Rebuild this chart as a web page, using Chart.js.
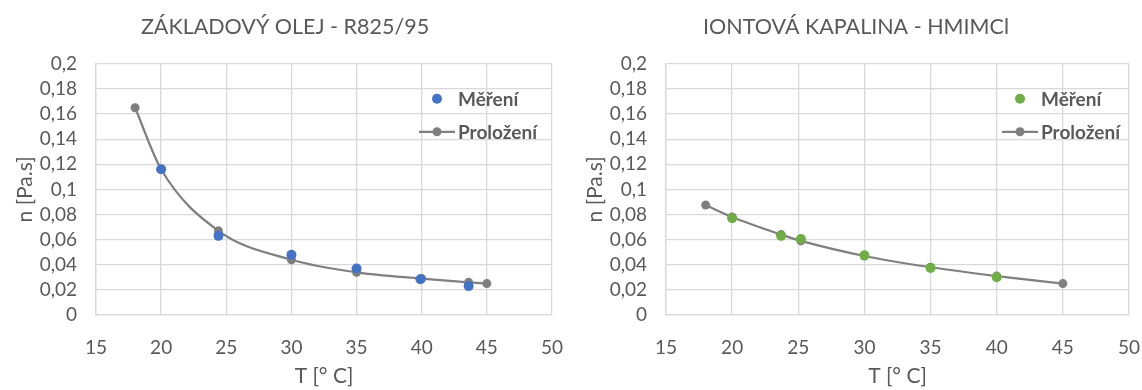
<!DOCTYPE html>
<html>
<head>
<meta charset="utf-8">
<script src="https://cdn.jsdelivr.net/npm/chart.js@4.4.1/dist/chart.umd.min.js"></script>
<style>
  html, body { margin: 0; padding: 0; background: #fff; }
  .wrap { position: absolute; top: 0; height: 390px; }
  #left { left: 0; width: 570px; }
  #right { left: 570px; width: 572px; }
</style>
</head>
<body>
<div class="wrap" id="left"><canvas id="oilChart"></canvas></div>
<div class="wrap" id="right"><canvas id="ionicChart"></canvas></div>
<script>
// Base oil R825/95: measured viscosity and fitted curve
const oilMeasT = [20, 24.4, 30, 35, 39.9, 43.6];
const oilMeasN = [0.116, 0.063, 0.048, 0.037, 0.0285, 0.023];
const oilFitT = [18, 20, 24.4, 30, 35, 40, 43.6, 45];
const oilFitN = [0.165, 0.116, 0.067, 0.044, 0.034, 0.029, 0.026, 0.025];

// Ionic liquid HMIMCl
const ilMeasT = [20, 23.7, 25.2, 30, 35, 40];
const ilMeasN = [0.077, 0.063, 0.0605, 0.0475, 0.0375, 0.030];
const ilFitT = [18, 20, 23.7, 25.2, 30, 35, 40, 45];
const ilFitN = [0.0875, 0.078, 0.064, 0.059, 0.047, 0.038, 0.031, 0.025];

const seriesNames = ['Měření', 'Proložení'];
const yTickLabels = ['0', '0,02', '0,04', '0,06', '0,08', '0,1', '0,12', '0,14', '0,16', '0,18', '0,2'];
const xTickLabels = ['15', '20', '25', '30', '35', '40', '45', '50'];

const FONT = 'Lato, "Open Sans", sans-serif';
const TEXT = '#595959';
const GRID = '#d9d9d9';
const FIT_GREY = '#7f7f7f';

const pts = (xs, ys) => xs.map((x, i) => ({ x, y: ys[i] }));

// legend drawn inside the plot area, top right
const insideLegend = {
  id: 'insideLegend',
  afterDatasetsDraw(chart, args, opts) {
    const { ctx, chartArea } = chart;
    const cx = chartArea.right - opts.offset;
    const rows = [chartArea.top + 35, chartArea.top + 68];
    ctx.save();
    ctx.font = 'bold 19px ' + FONT;
    ctx.textBaseline = 'middle';
    chart.data.datasets.forEach((ds, i) => {
      const y = rows[i];
      if (ds.showLine) {
        ctx.strokeStyle = ds.borderColor;
        ctx.lineWidth = ds.borderWidth;
        ctx.beginPath();
        ctx.moveTo(cx - 18, y);
        ctx.lineTo(cx + 18, y);
        ctx.stroke();
      }
      ctx.fillStyle = ds.pointBackgroundColor;
      ctx.beginPath();
      ctx.arc(cx, y, ds.pointRadius, 0, Math.PI * 2);
      ctx.fill();
      ctx.fillStyle = TEXT;
      ctx.fillText(ds.label, cx + 21, y + 1);
    });
    ctx.restore();
  }
};

function makeChart(id, title, measPts, fitPts, measColor, legendOffset, padRight) {
  return new Chart(document.getElementById(id), {
    type: 'scatter',
    data: {
      datasets: [
        {
          label: seriesNames[0],
          data: measPts,
          showLine: false,
          pointRadius: 5,
          pointHoverRadius: 5,
          pointBackgroundColor: measColor,
          pointBorderWidth: 0,
          borderColor: measColor
        },
        {
          label: seriesNames[1],
          data: fitPts,
          showLine: true,
          cubicInterpolationMode: 'monotone',
          borderColor: FIT_GREY,
          borderWidth: 2.2,
          pointRadius: 4.5,
          pointHoverRadius: 4.5,
          pointBackgroundColor: FIT_GREY,
          pointBorderWidth: 0
        }
      ]
    },
    options: {
      responsive: true,
      maintainAspectRatio: false,
      animation: false,
      layout: { padding: 0 },
      plugins: {
        legend: { display: false },
        tooltip: { enabled: false },
        title: {
          display: true,
          text: title,
          color: TEXT,
          font: { family: FONT, size: 21.5, weight: 'normal' },
          padding: { top: 14, bottom: 24 }
        },
        insideLegend: { offset: legendOffset }
      },
      scales: {
        x: {
          type: 'linear',
          min: 15,
          max: 50,
          afterFit: (axis) => {
            axis.height = 75;
            axis.paddingLeft = 0;
            axis.paddingRight = padRight;
          },
          ticks: {
            stepSize: 5,
            color: TEXT,
            padding: 21,
            font: { family: FONT, size: 19 },
            callback: (v, i) => xTickLabels[i]
          },
          grid: { color: GRID, lineWidth: 1.3, drawTicks: false },
          border: { color: GRID, width: 1.3 },
          title: {
            display: true,
            text: 'T [° C]',
            color: TEXT,
            font: { family: FONT, size: 21 },
            padding: { top: 0, bottom: 1 }
          }
        },
        y: {
          min: 0,
          max: 0.2,
          afterFit: (axis) => {
            axis.width = 96;
            axis.paddingTop = 0;
            axis.paddingBottom = 0;
          },
          ticks: {
            stepSize: 0.02,
            autoSkip: false,
            color: TEXT,
            padding: 19,
            font: { family: FONT, size: 19 },
            callback: (v, i) => yTickLabels[i]
          },
          grid: { color: GRID, lineWidth: 1.3, drawTicks: false },
          border: { color: GRID, width: 1.3 },
          title: {
            display: true,
            text: 'n [Pa.s]',
            color: TEXT,
            font: { family: FONT, size: 21 },
            padding: { top: 13, bottom: 0 }
          }
        }
      }
    },
    plugins: [insideLegend]
  });
}

makeChart('oilChart', 'ZÁKLADOVÝ OLEJ - R825/95', pts(oilMeasT, oilMeasN), pts(oilFitT, oilFitN), '#4472c4', 115, 18);
makeChart('ionicChart', 'IONTOVÁ KAPALINA - HMIMCl', pts(ilMeasT, ilMeasN), pts(ilFitT, ilFitN), '#70ad47', 109, 13);
</script>
</body>
</html>
